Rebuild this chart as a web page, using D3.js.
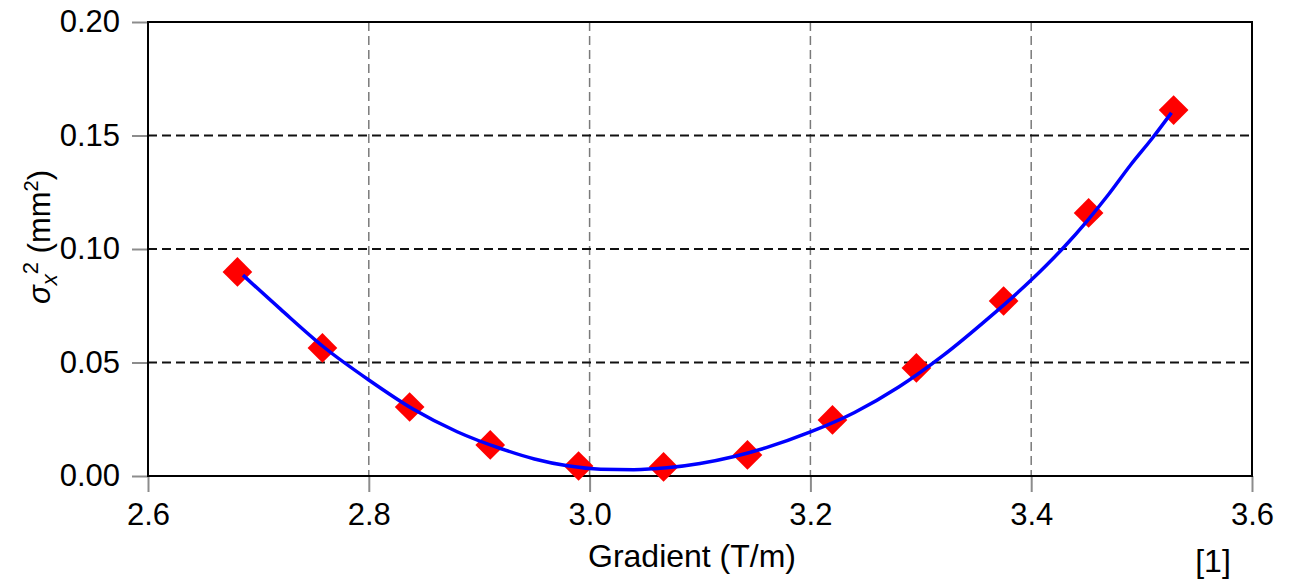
<!DOCTYPE html>
<html>
<head>
<meta charset="utf-8">
<script src="https://cdn.jsdelivr.net/npm/d3@7/dist/d3.min.js"></script>
<style>
  body { margin: 0; background: #fff; }
  svg { display: block; font-family: "Liberation Sans", Arial, sans-serif; }
</style>
</head>
<body>
<div id="chart"></div>
<script>
var W = 1296, H = 582;

// measured points (gradient in T/m, sigma_x^2 in mm^2)
var gradients = [2.681, 2.758, 2.837, 2.910, 2.990, 3.067, 3.143, 3.220, 3.296, 3.375, 3.452, 3.529];
var sigma2 = [0.0899, 0.0564, 0.0304, 0.0137, 0.0044, 0.0040, 0.0093, 0.0247, 0.0476, 0.0771, 0.1159, 0.1612];

// fitted curve
var fitX = [2.686, 2.72, 2.76, 2.80, 2.84, 2.88, 2.92, 2.95, 2.98, 3.01, 3.04, 3.07, 3.10, 3.13, 3.16, 3.20, 3.24, 3.28, 3.32, 3.36, 3.40, 3.43, 3.45, 3.47, 3.49, 3.51, 3.527];
var fitY = [0.0885, 0.0735, 0.0565, 0.0423, 0.0295, 0.0195, 0.0120, 0.0075, 0.0045, 0.0030, 0.0028, 0.0036, 0.0055, 0.0085, 0.0125, 0.0194, 0.0280, 0.0392, 0.0530, 0.0690, 0.0863, 0.1010, 0.1120, 0.1240, 0.1370, 0.1490, 0.1600];

var xTicks = [2.6, 2.8, 3.0, 3.2, 3.4, 3.6];
var yTicks = [0.00, 0.05, 0.10, 0.15, 0.20];

// plot box (named so they don't clash with window.top)
var pLeft = 148, pRight = 1252, pTop = 22, pBottom = 476;

var x = d3.scaleLinear().domain([2.6, 3.6]).range([pLeft, pRight]);
var y = d3.scaleLinear().domain([0, 0.2]).range([pBottom, pTop]);

var svg = d3.select('#chart').append('svg')
  .attr('width', W)
  .attr('height', H);

// vertical grid (grey dashes)
svg.append('g').selectAll('line')
  .data(xTicks.slice(1, -1))
  .enter().append('line')
    .attr('x1', function(d) { return x(d); })
    .attr('x2', function(d) { return x(d); })
    .attr('y1', pTop)
    .attr('y2', pBottom)
    .attr('stroke', '#7a7a7a')
    .attr('stroke-width', 1.5)
    .attr('stroke-dasharray', '9,5');

// horizontal grid (black dashes)
svg.append('g').selectAll('line')
  .data(yTicks.slice(1, -1))
  .enter().append('line')
    .attr('x1', pLeft)
    .attr('x2', pRight)
    .attr('y1', function(d) { return y(d); })
    .attr('y2', function(d) { return y(d); })
    .attr('stroke', '#111')
    .attr('stroke-width', 2)
    .attr('stroke-dasharray', '9,5');

// axes
var xAxis = d3.axisBottom(x).tickValues(xTicks).tickFormat(d3.format('.1f')).tickSize(16).tickPadding(11).tickSizeOuter(0);
var yAxis = d3.axisLeft(y).tickValues(yTicks).tickFormat(d3.format('.2f')).tickSize(16).tickPadding(12).tickSizeOuter(0);

var gx = svg.append('g').attr('transform', 'translate(0,' + pBottom + ')').call(xAxis);
var gy = svg.append('g').attr('transform', 'translate(' + pLeft + ',0)').call(yAxis);

[gx, gy].forEach(function(g) {
  g.select('.domain').remove();
  g.selectAll('.tick line').attr('stroke', '#8c8c8c').attr('stroke-width', 2);
  g.selectAll('.tick text')
    .attr('fill', '#000')
    .style('font-size', '31px')
    .style('font-family', '"Liberation Sans", Arial, sans-serif');
});

// frame
svg.append('rect')
  .attr('x', pLeft)
  .attr('y', pTop)
  .attr('width', pRight - pLeft)
  .attr('height', pBottom - pTop)
  .attr('fill', 'none')
  .attr('stroke', '#000')
  .attr('stroke-width', 2);

// markers
svg.append('g').selectAll('path')
  .data(gradients)
  .enter().append('path')
    .attr('d', d3.symbol(d3.symbolSquare).size(441))
    .attr('transform', function(d, i) {
      return 'translate(' + x(d) + ',' + y(sigma2[i]) + ') rotate(45)';
    })
    .attr('fill', '#ff0000');

// fit line
var line = d3.line()
  .x(function(d, i) { return x(d); })
  .y(function(d, i) { return y(fitY[i]); })
  .curve(d3.curveMonotoneX);

svg.append('path')
  .datum(fitX)
  .attr('d', line)
  .attr('fill', 'none')
  .attr('stroke', '#0000ff')
  .attr('stroke-width', 3.5);

// axis titles
svg.append('text')
  .attr('x', 692)
  .attr('y', 567)
  .attr('text-anchor', 'middle')
  .style('font-size', '32px')
  .text('Gradient (T/m)');

var yt = svg.append('text')
  .attr('transform', 'translate(50,237) rotate(-90)')
  .attr('text-anchor', 'middle')
  .style('font-size', '31px');
yt.append('tspan').style('font-style', 'italic').text('σ');
yt.append('tspan').style('font-style', 'italic').style('font-size', '22px').attr('dy', 7).text('x');
yt.append('tspan').style('font-size', '22px').attr('dy', -19).text('2');
yt.append('tspan').attr('dy', 12).text(' (mm');
yt.append('tspan').style('font-size', '20px').attr('dy', -12).text('2');
yt.append('tspan').attr('dy', 12).text(')');

svg.append('text')
  .attr('x', 1213)
  .attr('y', 572)
  .attr('text-anchor', 'middle')
  .style('font-size', '32px')
  .text('[1]');
</script>
</body>
</html>
